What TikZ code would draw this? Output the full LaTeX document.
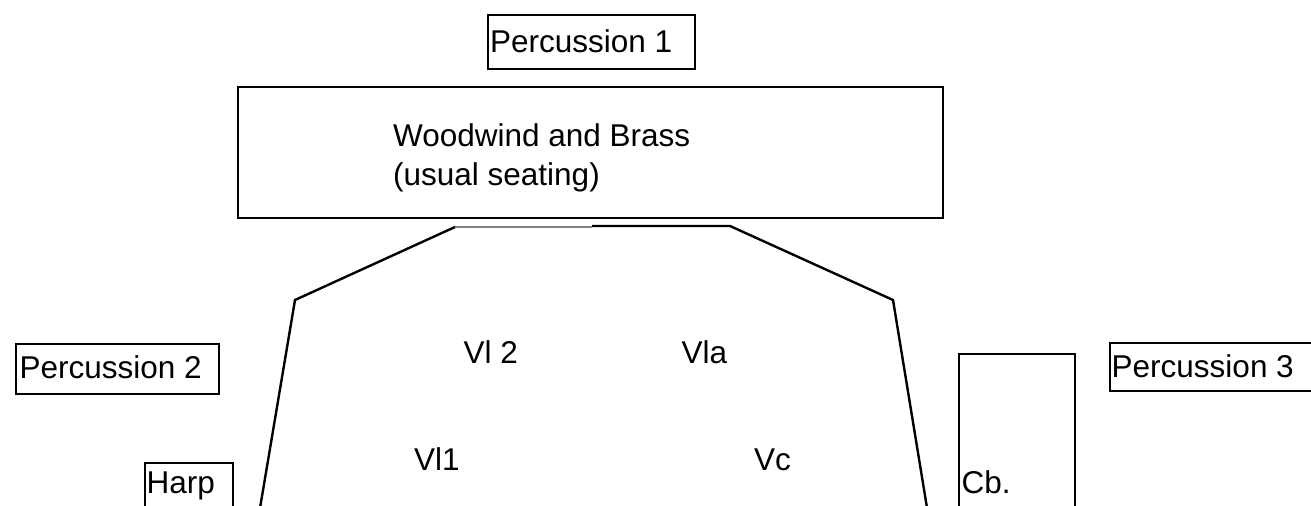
\documentclass[tikz,border=0pt]{standalone}
\usepackage{fontspec}
\setmainfont{Liberation Sans}
\usetikzlibrary{positioning}
\usetikzlibrary{calc}

\begin{document}
\begin{tikzpicture}[x=0.5pt,y=-0.5pt,line width=1.2pt,
			font=\fontsize{15.75pt}{19.5pt}\selectfont]
			\tikzstyle{box}=[draw,anchor=north west,inner sep=0pt]
			\tikzstyle{lbl}=[anchor=base west,inner sep=0pt,align=left]
			
			\useasboundingbox (0,0) rectangle (1311,506);
			\clip (0,0) rectangle (1311,506);
			
			% boxes
			\node[box,minimum width=103.5pt,minimum height=27pt]   (P_1) at (487,14)  {};
			\node[box,minimum width=352.5pt,minimum height=65.5pt] (WB)  at (237,86)  {};
			\node[box,minimum width=101.5pt,minimum height=25pt]   (P_2) at (15,343)  {};
			\node[box,minimum width=110pt,minimum height=24pt]     (P_3) at (1109,342) {};
			\node[box,minimum width=44pt,minimum height=40pt]      (Hp)  at (144,462) {};
			\node[box,minimum width=58pt,minimum height=90pt]      (Cb)  at (958,353) {};
			
			% labels
			\node[lbl] (P_1_t) at (489,53)    {Percussion 1};
			\node[lbl] (WB_t)  at (392,186)   {Woodwind and Brass\\(usual seating)};
			\node[lbl] (P_2_t) at (18.5,379)  {Percussion 2};
			\node[lbl] (P_3_t) at (1110.5,378) {Percussion 3};
			\node[lbl] (Hp_t)  at (145.5,494) {Harp};
			\node[lbl] (Cb_t)  at (960.5,494) {Cb.};
			
			\node[lbl] (Vl_2) at (462.5,364) {Vl 2};
			\node[lbl] (Vla)  at (680.5,364) {Vla};
			\node[lbl] (Vl_1) at (413,470.7) {Vl1};
			\node[lbl] (Vc)   at (753,470.7) {Vc};
			
			% strings platform
			\coordinate (L_0) at (258,520);
			\coordinate (L_1) at (295,300);
			\coordinate (L_2) at (455,227);
			\coordinate (M)   at (592,226.5);
			\coordinate (R_2) at (730,226);
			\coordinate (R_1) at (893,300);
			\coordinate (R_0) at (929,520);
			
			\draw (L_0) -- (L_1) -- (L_2);
			\draw[gray] (L_2) -- (L_2 -| M);
			\draw (M |- R_2) -- (R_2) -- (R_1) -- (R_0);
			\end{tikzpicture}
\end{document}
